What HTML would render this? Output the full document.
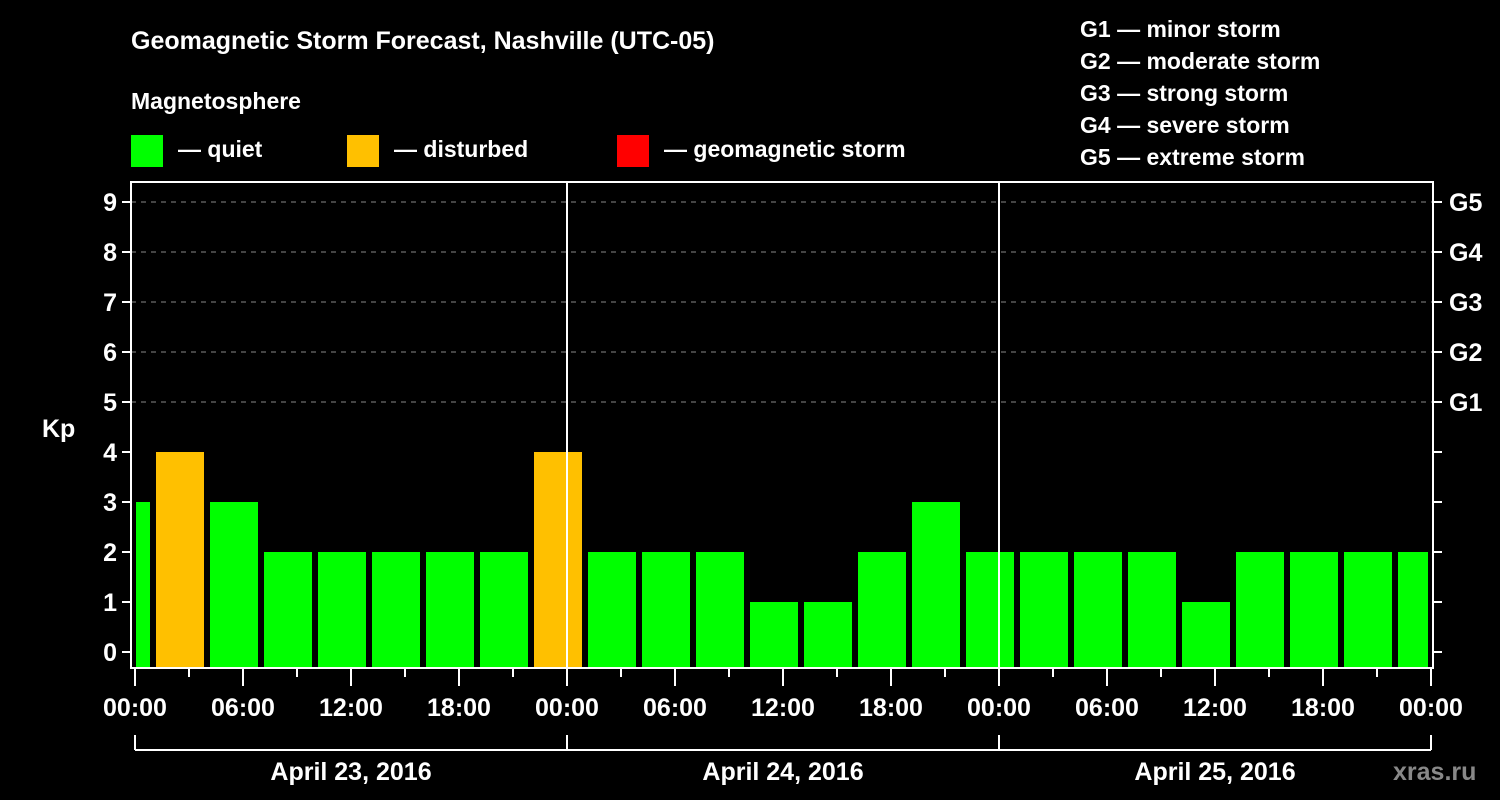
<!DOCTYPE html>
<html><head><meta charset="utf-8"><style>
body{margin:0;background:#000;}
svg{display:block;font-family:"Liberation Sans",Arial,sans-serif;font-weight:bold;}
</style></head><body>
<svg width="1500" height="800" viewBox="0 0 1500 800">
<rect width="1500" height="800" fill="#000"/>
<text x="131" y="49" fill="#fff" font-size="25">Geomagnetic Storm Forecast, Nashville (UTC-05)</text>
<text x="131" y="109" fill="#fff" font-size="23">Magnetosphere</text>
<g><rect x="131" y="135" width="32" height="32" fill="#00ff00"/><text x="178" y="157" fill="#fff" font-size="23">— quiet</text></g>
<g><rect x="347" y="135" width="32" height="32" fill="#ffc000"/><text x="394" y="157" fill="#fff" font-size="23">— disturbed</text></g>
<g><rect x="617" y="135" width="32" height="32" fill="#ff0000"/><text x="664" y="157" fill="#fff" font-size="23">— geomagnetic storm</text></g>
<g fill="#fff" font-size="23">
<text x="1080" y="37">G1 — minor storm</text>
<text x="1080" y="69">G2 — moderate storm</text>
<text x="1080" y="101">G3 — strong storm</text>
<text x="1080" y="133">G4 — severe storm</text>
<text x="1080" y="165">G5 — extreme storm</text>
</g>
<text x="42" y="437" fill="#fff" font-size="25">Kp</text>
<text x="1393" y="780" fill="#888" font-size="25">xras.ru</text>
<g id="chart"></g>
</svg>
<script>
const kpValues=[3,4,3,2,2,2,2,2,4,2,2,2,1,1,2,3,2,2,2,2,1,2,2,2,2];
const hourTicks=["00:00","06:00","12:00","18:00","00:00","06:00","12:00","18:00","00:00","06:00","12:00","18:00","00:00"];
const dayLabels=["April 23, 2016","April 24, 2016","April 25, 2016"];
const gLabels=["G1","G2","G3","G4","G5"];
const firstSlotHour=-2;
const NS="http://www.w3.org/2000/svg";
const g=document.getElementById('chart');
const L=131,R=1433,T=182,B=668,X0=135,PXH=18;
const xs=h=>X0+h*PXH, ys=v=>652-v*50;
function mk(t,a,p){const e=document.createElementNS(NS,t);for(const k in a)e.setAttribute(k,a[k]);(p||g).appendChild(e);return e;}
// gridlines
for(let v=5;v<=9;v++){const l=mk('line',{x1:L,x2:R,y1:ys(v),y2:ys(v),stroke:'#888','stroke-dasharray':'5,5','stroke-width':1});

}
// bars
kpValues.forEach((v,i)=>{const h=firstSlotHour+i*3;
let x1=Math.max(xs(h)+3,X0+1),x2=Math.min(xs(h+3)-3,xs(72)-3);
const c=v>=5?'#ff0000':(v>=4?'#ffc000':'#00ff00');
const r=mk('rect',{x:x1,y:ys(v),width:x2-x1,height:B-ys(v),fill:c});

});
// day separators
for(let d=1;d<3;d++){const l=mk('line',{x1:xs(d*24),x2:xs(d*24),y1:T,y2:B,stroke:'#fff','stroke-width':2});

}
// frame
const f=mk('rect',{x:L,y:T,width:R-L,height:B-T,fill:'none',stroke:'#fff','stroke-width':2});


// y ticks
for(let v=0;v<=9;v++){
mk('line',{x1:L-9,x2:L,y1:ys(v),y2:ys(v),stroke:'#fff','stroke-width':2});
mk('line',{x1:R,x2:R+9,y1:ys(v),y2:ys(v),stroke:'#fff','stroke-width':2});
const t=mk('text',{x:L-14,y:ys(v)+9,fill:'#fff','font-size':25,'text-anchor':'end'});t.textContent=v;


if(v>=5){const gt=mk('text',{x:1449,y:ys(v)+9,fill:'#fff','font-size':25});gt.textContent=gLabels[v-5];

}}
// x ticks
for(let h=0;h<=72;h+=3){const major=h%6===0;
mk('line',{x1:xs(h),x2:xs(h),y1:B,y2:major?686:677,stroke:'#fff','stroke-width':2});}
hourTicks.forEach((s,i)=>{const t=mk('text',{x:xs(i*6),y:716,fill:'#fff','font-size':25,'text-anchor':'middle'});t.textContent=s;

});
// day brackets
mk('line',{x1:xs(0),x2:xs(72),y1:750,y2:750,stroke:'#fff','stroke-width':2});
for(let d=0;d<=3;d++)mk('line',{x1:xs(d*24),x2:xs(d*24),y1:735,y2:750,stroke:'#fff','stroke-width':2});
dayLabels.forEach((s,i)=>{const t=mk('text',{x:xs(i*24+12),y:780,fill:'#fff','font-size':25,'text-anchor':'middle'});t.textContent=s;

});
</script>
</body></html>
